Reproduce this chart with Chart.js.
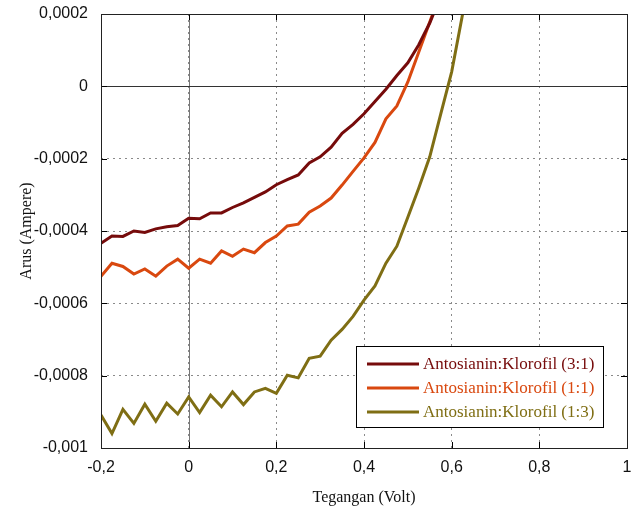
<!DOCTYPE html>
<html>
<head>
<meta charset="utf-8">
<script src="https://cdn.jsdelivr.net/npm/chart.js@4/dist/chart.umd.min.js"></script>
<style>
  html, body { margin: 0; padding: 0; background: #fff; }
  #wrap { width: 643px; height: 507px; }
</style>
</head>
<body>
<div id="wrap"><canvas id="ivChart" width="643" height="507"></canvas></div>
<script>
// voltage (V)
const voltage = [
  -0.2, -0.175, -0.15, -0.125, -0.1, -0.075, -0.05, -0.025,
  0, 0.025, 0.05, 0.075, 0.1, 0.125, 0.15, 0.175,
  0.2, 0.225, 0.25, 0.275, 0.3, 0.325, 0.35, 0.375,
  0.4, 0.425, 0.45, 0.475, 0.5, 0.525, 0.55, 0.575, 0.6, 0.625, 0.65
];

// current (A)
const ratio31 = [
  -0.000434, -0.000414, -0.000415, -0.000400, -0.000404, -0.000394, -0.000388, -0.000385,
  -0.000365, -0.000366, -0.000350, -0.000350, -0.000335, -0.000322, -0.000307, -0.000292,
  -0.000272, -0.000258, -0.000245, -0.000212, -0.000195, -0.000168, -0.000130, -0.000105,
  -0.000076, -0.000042, -0.000008, 0.000030, 0.000065, 0.000115, 0.000175, 0.000250, 0.00033, 0.00041, 0.00049
];
const ratio11 = [
  -0.000525, -0.000489, -0.000498, -0.000519, -0.000505, -0.000525, -0.000497, -0.000478,
  -0.000503, -0.000478, -0.000489, -0.000455, -0.000470, -0.000450, -0.000460, -0.000432,
  -0.000414, -0.000386, -0.000381, -0.000348, -0.000331, -0.000309, -0.000273, -0.000235,
  -0.000198, -0.000155, -0.000090, -0.000054, 0.000012, 0.000095, 0.000178, 0.000260, 0.00034, 0.00042, 0.0005
];
const ratio13 = [
  -0.000909, -0.000960, -0.000893, -0.000932, -0.000879, -0.000926, -0.000876, -0.000906,
  -0.000859, -0.000902, -0.000854, -0.000886, -0.000845, -0.000880, -0.000845, -0.000835,
  -0.000849, -0.000799, -0.000806, -0.000752, -0.000746, -0.000702, -0.000672, -0.000636,
  -0.000591, -0.000552, -0.000489, -0.000442, -0.000362, -0.000281, -0.000195, -0.000077, 0.00004, 0.0002, 0.00036
];

const seriesNames = ["Antosianin:Klorofil (3:1)", "Antosianin:Klorofil (1:1)", "Antosianin:Klorofil (1:3)"];
const seriesColors = ["#760b0b", "#d9480f", "#7f6e14"];

const xTicks = [-0.2, 0, 0.2, 0.4, 0.6, 0.8, 1];
const yTicks = [0.0002, 0, -0.0002, -0.0004, -0.0006, -0.0008, -0.001];

function pts(ys) {
  return voltage.map((v, i) => ({ x: v, y: ys[i] }));
}

function comma(v) {
  return String(Number(v.toPrecision(6))).replace(".", ",");
}

// frame, zero lines, inward ticks, legend box
const framePlugin = {
  id: "frame",
  beforeDatasetsDraw(chart) {
    const { ctx, chartArea: a, scales } = chart;
    ctx.save();
    const x0 = Math.round(scales.x.getPixelForValue(0)) + 0.5;
    ctx.strokeStyle = "#777";
    ctx.lineWidth = 1;
    ctx.beginPath();
    ctx.moveTo(x0, a.top);
    ctx.lineTo(x0, a.bottom);
    ctx.stroke();
    const y0 = Math.round(scales.y.getPixelForValue(0)) + 0.5;
    ctx.strokeStyle = "#333";
    ctx.beginPath();
    ctx.moveTo(a.left, y0);
    ctx.lineTo(a.right, y0);
    ctx.stroke();
    ctx.restore();
  },
  afterDraw(chart) {
    const { ctx, chartArea: a, scales } = chart;
    ctx.save();
    ctx.strokeStyle = "#000";
    ctx.lineWidth = 1;
    ctx.beginPath();
    xTicks.forEach(v => {
      const px = Math.round(scales.x.getPixelForValue(v)) + 0.5;
      ctx.moveTo(px, a.top); ctx.lineTo(px, a.top + 6);
      ctx.moveTo(px, a.bottom); ctx.lineTo(px, a.bottom - 6);
    });
    yTicks.forEach(v => {
      const py = Math.round(scales.y.getPixelForValue(v)) + 0.5;
      ctx.moveTo(a.left, py); ctx.lineTo(a.left + 6, py);
      ctx.moveTo(a.right, py); ctx.lineTo(a.right - 6, py);
    });
    ctx.stroke();
    ctx.strokeStyle = "#222";
    ctx.strokeRect(Math.round(a.left) + 0.5, Math.round(a.top) + 0.5,
      Math.round(a.right - a.left), Math.round(a.bottom - a.top));

    // legend
    const bx = 356, by = 346, bw = 247, bh = 81;
    ctx.fillStyle = "#fff";
    ctx.fillRect(bx, by, bw, bh);
    ctx.strokeStyle = "#000";
    ctx.strokeRect(bx + 0.5, by + 0.5, bw, bh);
    ctx.font = "17px 'Liberation Serif', serif";
    ctx.textBaseline = "middle";
    chart.data.datasets.forEach((ds, i) => {
      const ry = by + 18 + i * 24;
      ctx.strokeStyle = ds.borderColor;
      ctx.lineWidth = 3;
      ctx.beginPath();
      ctx.moveTo(367, ry); ctx.lineTo(419, ry);
      ctx.stroke();
      ctx.fillStyle = ds.borderColor;
      ctx.fillText(ds.label, 423, ry + 1);
    });
    ctx.restore();
  }
};

new Chart("ivChart", {
  type: "line",
  data: {
    datasets: [ratio31, ratio11, ratio13].map((ys, i) => ({
      label: seriesNames[i],
      data: pts(ys),
      borderColor: seriesColors[i],
      backgroundColor: seriesColors[i],
      borderWidth: 3,
      pointRadius: 0,
      tension: 0,
      clip: 0
    }))
  },
  options: {
    responsive: false,
    animation: false,
    layout: { padding: { top: 14, right: 16, left: 0, bottom: 0 } },
    plugins: {
      legend: { display: false },
      tooltip: { enabled: false }
    },
    scales: {
      x: {
        type: "linear",
        min: -0.2,
        max: 1,
        afterFit(s) { s.height = 59; s.paddingLeft = 0; s.paddingRight = 0; },
        afterBuildTicks(s) { s.ticks = xTicks.map(v => ({ value: v })); },
        ticks: {
          padding: 10,
          color: "#111",
          font: { family: "'Liberation Sans', Arial, sans-serif", size: 16 },
          callback: v => comma(v)
        },
        grid: { color: "#8a8a8a", lineWidth: 1, drawTicks: false },
        border: { display: false, dash: [2, 4] },
        title: {
          display: true,
          text: "Tegangan (Volt)",
          color: "#111",
          padding: { top: 1, bottom: 0 },
          font: { family: "'Liberation Serif', serif", size: 16 }
        }
      },
      y: {
        type: "linear",
        min: -0.001,
        max: 0.0002,
        afterFit(s) { s.width = 101; s.paddingTop = 0; s.paddingBottom = 0; },
        afterBuildTicks(s) { s.ticks = yTicks.map(v => ({ value: v })); },
        ticks: {
          padding: 13,
          color: "#111",
          font: { family: "'Liberation Sans', Arial, sans-serif", size: 16 },
          callback: v => comma(v)
        },
        grid: { color: "#8a8a8a", lineWidth: 1, drawTicks: false },
        border: { display: false, dash: [2, 4] },
        title: {
          display: true,
          text: "Arus (Ampere)",
          color: "#111",
          padding: { top: 17, bottom: 0 },
          font: { family: "'Liberation Serif', serif", size: 16 }
        }
      }
    }
  },
  plugins: [framePlugin]
});
</script>
</body>
</html>
